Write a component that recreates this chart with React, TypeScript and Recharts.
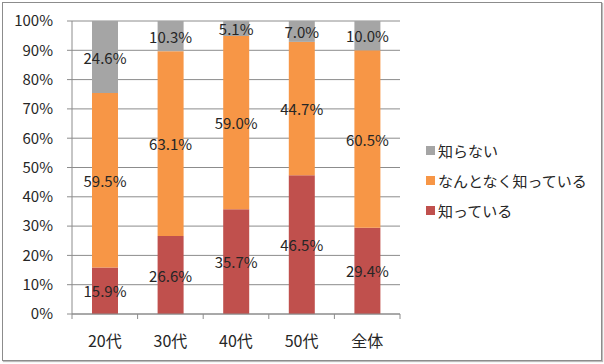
import React from 'react';
import { BarChart, Bar, XAxis, YAxis, CartesianGrid, Legend, LabelList } from 'recharts';

const categories = ['20代', '30代', '40代', '50代', '全体'];
const knows = [15.9, 26.6, 35.7, 46.5, 29.4];
const vaguely = [59.5, 63.1, 59.0, 44.7, 60.5];
const unknown = [24.6, 10.3, 5.1, 7.0, 10.0];
const yTicks = [0, 0.1, 0.2, 0.3, 0.4, 0.5, 0.6, 0.7, 0.8, 0.9, 1];

const seriesNames = {
  knows: '知っている',
  vaguely: 'なんとなく知っている',
  unknown: '知らない',
};
const colors = { knows: '#C0504D', vaguely: '#F79646', unknown: '#A5A5A5' };

const data = categories.map((c, i) => ({
  name: c,
  knows: knows[i],
  vaguely: vaguely[i],
  unknown: unknown[i],
}));

const FONT = '"Noto Sans CJK JP", "Noto Sans", sans-serif';

const makeLabel = (values: number[]) => (props: any) => {
  const { x, y, width, height, index } = props;
  return (
    <text
      x={x + width / 2}
      y={y + height / 2}
      textAnchor="middle"
      dominantBaseline="central"
      fontSize={15}
      fontFamily={FONT}
      fill="#262626"
    >
      {values[index].toFixed(1)}%
    </text>
  );
};

const XTick = (props: any) => {
  const { x, y, payload, index } = props;
  const half = 328 / categories.length / 2;
  return (
    <g>
      <line x1={x - half} x2={x - half} y1={y - 8} y2={y - 3} stroke="#8c8c8c" />
      {index === categories.length - 1 && (
        <line x1={x + half} x2={x + half} y1={y - 8} y2={y - 3} stroke="#8c8c8c" />
      )}
      <text x={x} y={y + 25} textAnchor="middle" fontSize={16} fontFamily={FONT} fill="#262626">
        {payload.value}
      </text>
    </g>
  );
};

const legendItems = [
  { key: 'unknown', label: seriesNames.unknown },
  { key: 'vaguely', label: seriesNames.vaguely },
  { key: 'knows', label: seriesNames.knows },
];

const renderLegend = () => (
  <div style={{ fontFamily: FONT, fontSize: 15, color: '#262626' }}>
    {legendItems.map((it) => (
      <div key={it.key} style={{ display: 'flex', alignItems: 'center', height: 30 }}>
        <span
          style={{
            display: 'inline-block',
            width: 9,
            height: 9,
            background: (colors as any)[it.key],
            marginRight: 3,
          }}
        />
        {it.label}
      </div>
    ))}
  </div>
);

export default function App() {
  return (
    <div style={{ position: 'absolute', left: 0, top: 0, width: 604, height: 364, background: '#fff' }}>
      <div
        style={{
          position: 'absolute',
          left: 2,
          top: 2,
          width: 598,
          height: 357,
          border: '1px solid #8c8c8c',
          boxShadow: '1px 1px 1px #bbb',
        }}
      />
      <BarChart
        width={604}
        height={364}
        data={data}
        stackOffset="expand"
        barSize={26}
        margin={{ top: 21, right: 204, bottom: 20, left: 0 }}
      >
        <CartesianGrid vertical={false} stroke="#8c8c8c" />
        <XAxis
          dataKey="name"
          height={30}
          axisLine={{ stroke: '#8c8c8c' }}
          tickLine={false}
          tick={<XTick />}
          interval={0}
        />
        <YAxis
          width={72}
          domain={[0, 1]}
          ticks={yTicks}
          tickFormatter={(v: number) => `${Math.round(v * 100)}%`}
          axisLine={{ stroke: '#8c8c8c' }}
          tickLine={{ stroke: '#8c8c8c' }}
          tickSize={5}
          tickMargin={14}
          tick={{ fontSize: 15, fontFamily: FONT, fill: '#262626' }}
        />
        <Legend
          layout="horizontal"
          align="center"
          verticalAlign="middle"
          content={renderLegend}
          wrapperStyle={{ left: 426, top: 135, width: 178 }}
        />
        <Bar dataKey="knows" stackId="a" name={seriesNames.knows} fill={colors.knows} isAnimationActive={false}>
          <LabelList content={makeLabel(knows)} />
        </Bar>
        <Bar dataKey="vaguely" stackId="a" name={seriesNames.vaguely} fill={colors.vaguely} isAnimationActive={false}>
          <LabelList content={makeLabel(vaguely)} />
        </Bar>
        <Bar dataKey="unknown" stackId="a" name={seriesNames.unknown} fill={colors.unknown} isAnimationActive={false}>
          <LabelList content={makeLabel(unknown)} />
        </Bar>
      </BarChart>
    </div>
  );
}
